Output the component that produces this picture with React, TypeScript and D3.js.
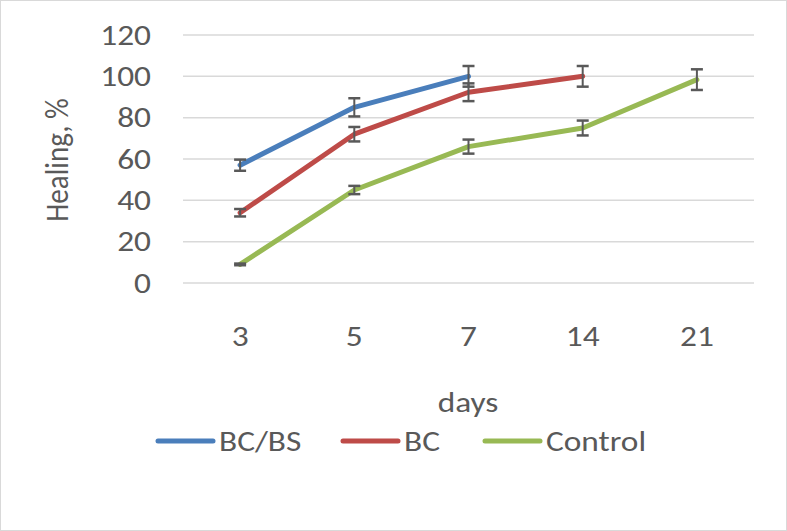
import React from "react";
import * as d3 from "d3";

const categories = ["3", "5", "7", "14", "21"];
const yTicks = [0, 20, 40, 60, 80, 100, 120];
const seriesNames = ["BC/BS", "BC", "Control"];
const colors = ["#4a7ebb", "#be4b48", "#98b954"];
const bcbsValues = [57, 85, 100, null, null];
const bcbsErrors = [2.7, 4.4, 5, null, null];
const bcValues = [34, 72, 92.3, 100, null];
const bcErrors = [1.8, 3.5, 4.3, 5, null];
const controlValues = [9, 45, 66, 75, 98.4];
const controlErrors = [0.4, 2, 3.4, 3.6, 5];

const W = 787, H = 531;
const left = 183, right = 754, top = 35, bottom = 283;
const FS = 29;
const SX = 1.15;

function T({ x, y, anchor = "start", children, rotate = 0 }: any) {
  return (
    <g transform={`translate(${x},${y}) scale(${SX},1) rotate(${rotate})`}>
      <text x={0} y={0} dy="0.33em" textAnchor={anchor} fontSize={FS} fill="#595959">
        {children}
      </text>
    </g>
  );
}

export default function App() {
  const x = d3.scaleBand().domain(categories).range([left, right]);
  const y = d3.scaleLinear().domain([0, 120]).range([bottom, top]);
  const cx = (c: string) => (x(c) as number) + x.bandwidth() / 2;
  const series = [
    { vals: bcbsValues, errs: bcbsErrors },
    { vals: bcValues, errs: bcErrors },
    { vals: controlValues, errs: controlErrors },
  ];
  const font = "Carlito, 'Open Sans', 'Liberation Sans', sans-serif";
  const line = d3
    .line<{ c: string; v: number }>()
    .x((d) => cx(d.c))
    .y((d) => y(d.v));
  const legendX = [158, 343, 485];
  return (
    <svg width={W} height={H} style={{ position: "absolute", left: 0, top: 0 }} fontFamily={font}>
      <rect x={0.5} y={0.5} width={W - 1} height={H - 1} fill="#fff" stroke="#d9d9d9" />
      {yTicks.map((t) => (
        <g key={t}>
          <line x1={left} x2={right} y1={y(t)} y2={y(t)} stroke="#d9d9d9" strokeWidth={1.5} />
          <T x={151} y={y(t)} anchor="end">{t}</T>
        </g>
      ))}
      {categories.map((c) => (
        <T key={c} x={cx(c)} y={336} anchor="middle">{c}</T>
      ))}
      <T x={468} y={402} anchor="middle">days</T>
      <T x={57} y={(top + bottom) / 2 + 1} anchor="middle" rotate={-90}>Healing, %</T>
      {series.map((s, i) => {
        const pts = categories
          .map((c, j) => ({ c, v: s.vals[j] as number }))
          .filter((d) => d.v != null);
        return (
          <path key={i} d={line(pts) || ""} fill="none" stroke={colors[i]} strokeWidth={5} strokeLinecap="round" strokeLinejoin="round" />
        );
      })}
      {series.map((s, i) =>
        categories.map((c, j) => {
          const v = s.vals[j];
          const e = s.errs[j];
          if (v == null || e == null) return null;
          const xx = cx(c);
          const y1 = y(v + e), y2 = y(v - e);
          return (
            <g key={`${i}-${j}`} stroke="#595959" strokeWidth={2}>
              <line x1={xx} x2={xx} y1={y1} y2={y2} />
              <line x1={xx - 6} x2={xx + 6} y1={y1} y2={y1} strokeWidth={2.5} />
              <line x1={xx - 6} x2={xx + 6} y1={y2} y2={y2} strokeWidth={2.5} />
            </g>
          );
        })
      )}
      {seriesNames.map((n, i) => (
        <g key={n}>
          <line x1={legendX[i]} x2={legendX[i] + 55} y1={441} y2={441} stroke={colors[i]} strokeWidth={5} strokeLinecap="round" />
          <T x={legendX[i] + 61} y={441}>{n}</T>
        </g>
      ))}
    </svg>
  );
}
